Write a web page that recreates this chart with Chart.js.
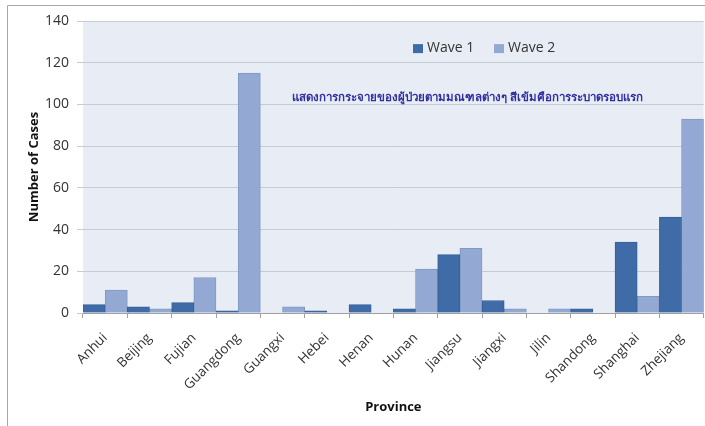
<!DOCTYPE html>
<html>
<head>
<meta charset="utf-8">
<title>Cases by Province</title>
<script src="https://cdn.jsdelivr.net/npm/chart.js@4.4.1/dist/chart.umd.min.js"></script>
<style>
  html, body { margin: 0; padding: 0; background: #fff; overflow: hidden; }
  #wrap { position: relative; width: 705px; height: 426px; }
</style>
</head>
<body>
<div id="wrap"><canvas id="casesChart" width="705" height="426"></canvas></div>
<script>
// provinces and case counts per wave
const provinces = ["Anhui", "Beijing", "Fujian", "Guangdong", "Guangxi", "Hebei", "Henan",
  "Hunan", "Jiangsu", "Jiangxi", "Jilin", "Shandong", "Shanghai", "Zhejiang"];
const wave1 = [4, 3, 5, 1, 0, 1, 4, 2, 28, 6, 0, 2, 34, 46];
const wave2 = [11, 2, 17, 115, 3, 0, 0, 21, 31, 2, 2, 0, 8, 93];
const yTicks = [0, 20, 40, 60, 80, 100, 120, 140];
const seriesNames = ["Wave 1", "Wave 2"];
const note = "แสดงการกระจายของผู้ป่วยตามมณฑลต่างๆ สีเข้มคือการระบาดรอบแรก";

const dark = "#3f6ba6";
const light = "#93a9d3";
const baseFont = "'Open Sans', 'Liberation Sans', sans-serif";

// plot background, outer frame, in-plot legend and the Thai note
const decorations = {
  id: "decorations",
  beforeDraw(chart) {
    const { ctx, chartArea: a } = chart;
    ctx.save();
    ctx.fillStyle = "#fff";
    ctx.fillRect(0, 0, chart.width, chart.height);
    ctx.strokeStyle = "#a8a8a8";
    ctx.lineWidth = 1;
    ctx.beginPath();
    ctx.moveTo(7.5, chart.height);
    ctx.lineTo(7.5, 5.5);
    ctx.lineTo(chart.width, 5.5);
    ctx.stroke();
    ctx.fillStyle = "#e8ecf4";
    ctx.fillRect(a.left, a.top, a.right - a.left, a.bottom - a.top);
    ctx.restore();
  },
  afterDraw(chart) {
    const { ctx } = chart;
    const y = chart.scales.y;
    ctx.save();
    // legend
    ctx.font = "14px " + baseFont;
    ctx.textBaseline = "middle";
    const ly = y.getPixelForValue(127);
    [[413, dark], [494, light]].forEach(([x, c], i) => {
      ctx.fillStyle = c;
      ctx.fillRect(x, ly - 4, 10, 9);
      ctx.fillStyle = "#333";
      ctx.fillText(seriesNames[i], x + 14, ly);
    });
    // note
    ctx.font = "bold 11.5px 'Noto Sans', 'DejaVu Sans', sans-serif";
    ctx.fillStyle = "#2f2fa0";
    ctx.fillText(note, 292, y.getPixelForValue(103));
    ctx.restore();
  }
};

new Chart(document.getElementById("casesChart"), {
  type: "bar",
  data: {
    labels: provinces,
    datasets: [
      { label: seriesNames[0], data: wave1, backgroundColor: dark, borderColor: "#35609a", borderWidth: 1,
        categoryPercentage: 1, barPercentage: 1 },
      { label: seriesNames[1], data: wave2, backgroundColor: light, borderColor: "#8198c4", borderWidth: 1,
        categoryPercentage: 1, barPercentage: 1 }
    ]
  },
  options: {
    responsive: false,
    animation: false,
    layout: { padding: { top: 21, right: 0, left: 22, bottom: 0 } },
    plugins: { legend: { display: false }, tooltip: { enabled: false } },
    scales: {
      x: {
        afterFit(s) { s.height = 113; },
        grid: { offset: true, drawOnChartArea: false, color: "#a0a0a0", tickLength: 5 },
        border: { color: "#a0a0a0" },
        ticks: { color: "#333", font: { family: baseFont, size: 13.5 }, minRotation: 45, maxRotation: 45, padding: 12 },
        title: { display: true, text: "Province", color: "#111", font: { family: baseFont, size: 13, weight: "bold" }, padding: { top: 4, bottom: 11 } }
      },
      y: {
        min: 0,
        max: 140,
        afterFit(s) { s.width = 61; },
        afterBuildTicks(s) { s.ticks = yTicks.map(v => ({ value: v })); },
        grid: { color: "#c6cad2", tickLength: 6 },
        border: { display: false },
        ticks: { color: "#333", font: { family: baseFont, size: 14 }, padding: 8 },
        title: { display: true, text: "Number of Cases", color: "#111", font: { family: baseFont, size: 13, weight: "bold" } }
      }
    }
  },
  plugins: [decorations]
});
</script>
</body>
</html>
